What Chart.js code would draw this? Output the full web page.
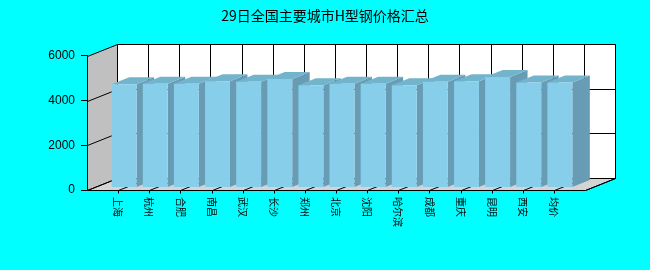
<!DOCTYPE html>
<html lang="zh-CN">
<head>
    <meta charset="UTF-8">
    <title>29日全国主要城市H型钢价格汇总</title>
    <script src="https://cdn.jsdelivr.net/npm/chart.js"></script>
    <style>
        body {
            margin: 0;
            padding: 0;
            background-color: #00ffff;
        }
        .wrap {
            width: 650px;
            height: 270px;
        }
    </style>
</head>
<body>
    <div class="wrap"><canvas id="chart"></canvas></div>

    <script>
        // 数据
        const cities = ['上海', '杭州', '合肥', '南昌', '武汉', '长沙', '郑州', '北京',
                        '沈阳', '哈尔滨', '成都', '重庆', '昆明', '西安', '均价'];
        const prices = [4620, 4640, 4640, 4760, 4730, 4850, 4580, 4640,
                        4640, 4580, 4730, 4750, 4950, 4700, 4700];
        const yTicks = [0, 2000, 4000, 6000];

        // 3D 偏移
        const DX = 30, DY = -12;       // 墙的深度
        const BX = 6, BY = -2.4;       // 柱子正面相对前平面的偏移
        const BDX = 17.5, BDY = -7;    // 柱子的深度

        function poly(ctx, pts, fill) {
            ctx.beginPath();
            ctx.moveTo(pts[0][0], pts[0][1]);
            for (let i = 1; i < pts.length; i++) ctx.lineTo(pts[i][0], pts[i][1]);
            ctx.closePath();
            ctx.fillStyle = fill;
            ctx.fill();
        }

        function line(ctx, pts) {
            ctx.beginPath();
            ctx.moveTo(pts[0][0], pts[0][1]);
            for (let i = 1; i < pts.length; i++) ctx.lineTo(pts[i][0], pts[i][1]);
            ctx.stroke();
        }

        const box3d = {
            id: 'box3d',
            // 墙、地板和网格
            beforeDraw(chart) {
                const {ctx, chartArea: a, scales: {x, y}} = chart;
                const L = Math.round(a.left) + 0.5, R = Math.round(a.right) + 0.5;
                const T = Math.round(a.top) + 0.5, B = Math.round(a.bottom) + 0.5;
                ctx.save();
                ctx.lineWidth = 1;
                ctx.strokeStyle = '#000';
                poly(ctx, [[L, T], [L + DX, T + DY], [L + DX, B + DY], [L, B]], '#c0c0c0');
                poly(ctx, [[L + DX, T + DY], [R + DX, T + DY], [R + DX, B + DY], [L + DX, B + DY]], '#ffffff');
                poly(ctx, [[L, B], [R, B], [R + DX, B + DY], [L + DX, B + DY]], '#d4d4d4');

                yTicks.forEach(v => {
                    const py = Math.round(y.getPixelForValue(v)) + 0.5;
                    line(ctx, [[L, py], [L + DX, py + DY], [R + DX, py + DY]]);
                });
                for (let i = 0; i <= cities.length + 1; i++) {
                    const px = Math.round(x.getPixelForValue(i)) + 0.5;
                    line(ctx, [[px + DX, T + DY], [px + DX, B + DY]]);
                    line(ctx, [[px, B], [px + DX, B + DY]]);
                    if (i > 0 && i <= cities.length) line(ctx, [[px, B], [px, B + 3]]);
                }
                line(ctx, [[L, B], [R, B], [R + DX, B + DY], [R + DX, T + DY]]);
                ctx.restore();
            },
            // 柱子的顶面和侧面
            beforeDatasetsDraw(chart) {
                const {ctx} = chart;
                const meta = chart.getDatasetMeta(0);
                ctx.save();
                meta.data.forEach((bar, i) => {
                    if (prices[i - 1] == null) return;
                    const {x, y, base, width} = bar.getProps(['x', 'y', 'base', 'width'], true);
                    const xl = x - width / 2 + BX, xr = x + width / 2 + BX;
                    const yt = y + BY, yb = base + BY;
                    poly(ctx, [[xr, yt], [xr + BDX, yt + BDY], [xr + BDX, yb + BDY], [xr, yb]], '#689cb4');
                    poly(ctx, [[xl, yt], [xr, yt], [xr + BDX, yt + BDY], [xl + BDX, yt + BDY]], '#73b4cd');
                });
                ctx.restore();
                ctx.save();
                ctx.translate(BX, BY);
            },
            afterDatasetsDraw(chart) {
                chart.ctx.restore();
            },
            // 竖排的城市名称
            afterDraw(chart) {
                const {ctx, chartArea: a, scales: {x}} = chart;
                ctx.save();
                ctx.fillStyle = '#000';
                ctx.font = '10px "Noto Sans CJK SC"';
                ctx.textAlign = 'left';
                ctx.textBaseline = 'middle';
                cities.forEach((c, i) => {
                    ctx.save();
                    ctx.translate(x.getPixelForValue(i + 1), a.bottom + 7);
                    ctx.rotate(Math.PI / 2);
                    ctx.fillText(c, 0, 0);
                    ctx.restore();
                });
                ctx.restore();
            }
        };

        new Chart(document.getElementById('chart'), {
            type: 'bar',
            data: {
                labels: ['', ...cities, ''],
                datasets: [{
                    data: [null, ...prices, null],
                    backgroundColor: '#87ceeb',
                    borderWidth: 0,
                    barPercentage: 0.8,
                    categoryPercentage: 1.0
                }]
            },
            options: {
                responsive: true,
                maintainAspectRatio: false,
                animation: false,
                layout: { padding: { left: 0, right: 0, top: 0, bottom: 80 } },
                plugins: {
                    legend: { display: false },
                    tooltip: { enabled: false },
                    title: {
                        display: true,
                        text: '29日全国主要城市H型钢价格汇总',
                        color: '#000',
                        font: { family: '"Noto Sans CJK SC"', size: 14, weight: 'normal' },
                        padding: { top: 7, bottom: 32 }
                    }
                },
                scales: {
                    x: {
                        display: false,
                        offset: false
                    },
                    y: {
                        min: 0,
                        max: 6000,
                        afterFit(s) { s.width = 87; },
                        afterBuildTicks(s) { s.ticks = yTicks.map(v => ({ value: v })); },
                        border: { display: true, color: '#000' },
                        grid: { drawOnChartArea: false, tickLength: 6, color: '#000' },
                        ticks: {
                            padding: 6,
                            color: '#000',
                            font: { family: '"Liberation Sans"', size: 12 },
                            callback: v => String(v)
                        }
                    },
                    yR: {
                        position: 'right',
                        afterFit(s) { s.width = 65; },
                        border: { display: false },
                        grid: { display: false },
                        ticks: { display: false }
                    }
                }
            },
            plugins: [box3d]
        });
    </script>
</body>
</html>
